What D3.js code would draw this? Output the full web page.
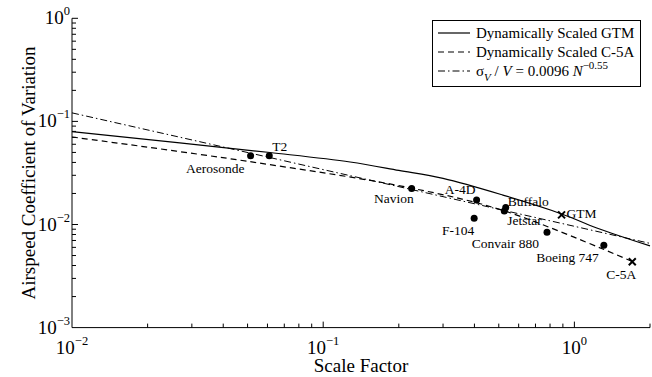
<!DOCTYPE html>
<html>
<head>
<meta charset="utf-8">
<script src="https://cdn.jsdelivr.net/npm/d3@7"></script>
<style>
  body { margin: 0; background: #fff; }
  svg { display: block; font-family: "Liberation Serif", "Times New Roman", serif; }
</style>
</head>
<body>
<svg id="chart"></svg>
<script>
const width = 652;
const height = 377;

// dynamically scaled GTM curve (scale factor, airspeed CoV)
const gtmScale = [0.01, 0.0614, 0.128, 0.2, 0.3, 0.519, 0.891, 1.228, 2];
const gtmCov = [0.0795, 0.0499, 0.0404, 0.0335, 0.0280, 0.0193, 0.01265, 0.00925, 0.0062];

// dynamically scaled C-5A curve
const c5aScale = [0.01, 0.0511, 0.2233, 0.529, 1.707];
const c5aCov = [0.0706, 0.0407, 0.0226, 0.0135, 0.00436];

// fit line end points: sigma_V / V = 0.0096 N^-0.55
const fitScale = [0.01, 2];
const fitCov = [0.121, 0.00656];

// aircraft
const aircraft = ['Aerosonde', 'T2', 'Navion', 'A-4D', 'Buffalo', 'Jetstar', 'F-104', 'GTM', 'Convair 880', 'Boeing 747', 'C-5A'];
const acScale = [0.0514, 0.061, 0.225, 0.408, 0.533, 0.526, 0.399, 0.889, 0.778, 1.31, 1.70];
const acCov = [0.0465, 0.0465, 0.0224, 0.0173, 0.0146, 0.0135, 0.0115, 0.0124, 0.0084, 0.0063, 0.00436];
const acMarker = ['dot', 'dot', 'dot', 'dot', 'dot', 'dot', 'dot', 'cross', 'dot', 'dot', 'cross'];

const legendLabels = ['Dynamically Scaled GTM', 'Dynamically Scaled C-5A'];

// where each label sits relative to its marker: dx, dy, anchor
const labelPos = {
  'Aerosonde': [-6, 17, 'end'],
  'T2': [3, -5, 'start'],
  'Navion': [2, 15, 'end'],
  'A-4D': [-1, -6, 'end'],
  'Buffalo': [2, -2, 'start'],
  'Jetstar': [3, 14, 'start'],
  'F-104': [0, 17, 'end'],
  'GTM': [5, 3, 'start'],
  'Convair 880': [-8, 16, 'end'],
  'Boeing 747': [-5, 17, 'end'],
  'C-5A': [4, 17, 'end']
};

const margin = { left: 72, right: 2, top: 18.3, bottom: 49.4 };

const svg = d3.select('#chart')
  .attr('width', width)
  .attr('height', height);

const x = d3.scaleLog()
  .domain([0.01, 2])
  .range([margin.left, width - margin.right]);

const y = d3.scaleLog()
  .domain([0.001, 1])
  .range([height - margin.bottom, margin.top]);

// tick values: every 1..9 of each decade
function logTicks(lo, hi) {
  const t = [];
  for (let e = Math.floor(Math.log10(lo)); e <= Math.ceil(Math.log10(hi)); e++) {
    for (let m = 1; m <= 9; m++) {
      const v = m * Math.pow(10, e);
      if (v >= lo * 0.9999 && v <= hi * 1.0001) t.push(v);
    }
  }
  return t;
}
const isMajor = v => Math.abs(Math.log10(v) - Math.round(Math.log10(v))) < 1e-6;

const xTicks = logTicks(0.01, 2);
const yTicks = logTicks(0.001, 1);

const axis_g = svg.append('g').attr('id', 'axes_g');

// axis lines
axis_g.append('line')
  .attr('x1', x(0.01)).attr('x2', x(2))
  .attr('y1', y(0.001)).attr('y2', y(0.001))
  .attr('stroke', '#000').attr('stroke-width', 1);
axis_g.append('line')
  .attr('x1', x(0.01)).attr('x2', x(0.01))
  .attr('y1', y(0.001)).attr('y2', y(1))
  .attr('stroke', '#000').attr('stroke-width', 1);

// inward ticks
axis_g.selectAll('.xtick')
  .data(xTicks.filter(v => v > 0.01))
  .enter().append('line')
  .attr('x1', d => x(d)).attr('x2', d => x(d))
  .attr('y1', y(0.001)).attr('y2', d => y(0.001) - (isMajor(d) ? 6 : 4))
  .attr('stroke', '#000');

axis_g.selectAll('.ytick')
  .data(yTicks.filter(v => v > 0.001))
  .enter().append('line')
  .attr('y1', d => y(d)).attr('y2', d => y(d))
  .attr('x1', x(0.01)).attr('x2', d => x(0.01) + (isMajor(d) ? 6 : 4))
  .attr('stroke', '#000');

// tick labels, 10^n
function powerLabel(sel, exp) {
  sel.append('tspan').text('10');
  sel.append('tspan')
    .attr('dy', -9)
    .attr('font-size', 12.5)
    .text(exp < 0 ? '\u2212' + (-exp) : String(exp));
}

[-2, -1, 0].forEach(e => {
  const t = axis_g.append('text')
    .attr('x', x(Math.pow(10, e)))
    .attr('y', height - margin.bottom + 26)
    .attr('text-anchor', 'middle')
    .attr('font-size', 19);
  powerLabel(t, e);
});

[-3, -2, -1, 0].forEach(e => {
  const t = axis_g.append('text')
    .attr('x', x(0.01) - 2)
    .attr('y', y(Math.pow(10, e)) + 6)
    .attr('text-anchor', 'end')
    .attr('font-size', 19);
  powerLabel(t, e);
});

// axis titles
svg.append('text')
  .attr('x', (x(0.01) + x(2)) / 2)
  .attr('y', 372)
  .attr('text-anchor', 'middle')
  .attr('font-size', 19)
  .text('Scale Factor');

svg.append('text')
  .attr('transform', `translate(35,${(y(1) + y(0.001)) / 2}) rotate(-90)`)
  .attr('text-anchor', 'middle')
  .attr('font-size', 19)
  .text('Airspeed Coefficient of Variation');

// curves
const smooth = d3.line()
  .x(d => x(d[0]))
  .y(d => y(d[1]))
  .curve(d3.curveCatmullRom.alpha(0.5));

const straight = d3.line()
  .x(d => x(d[0]))
  .y(d => y(d[1]));

const lines_g = svg.append('g').attr('id', 'lines_g');

lines_g.append('path')
  .datum(gtmScale.map((s, i) => [s, gtmCov[i]]))
  .attr('d', smooth)
  .attr('fill', 'none')
  .attr('stroke', '#000')
  .attr('stroke-width', 1.2);

lines_g.append('path')
  .datum(c5aScale.map((s, i) => [s, c5aCov[i]]))
  .attr('d', smooth)
  .attr('fill', 'none')
  .attr('stroke', '#000')
  .attr('stroke-width', 1.2)
  .attr('stroke-dasharray', '6,4');

lines_g.append('path')
  .datum(fitScale.map((s, i) => [s, fitCov[i]]))
  .attr('d', straight)
  .attr('fill', 'none')
  .attr('stroke', '#000')
  .attr('stroke-width', 1)
  .attr('stroke-dasharray', '7,3,1.5,3');

// aircraft markers
const pts = aircraft.map((name, i) => ({ name, s: acScale[i], v: acCov[i], m: acMarker[i] }));
const pts_g = svg.append('g').attr('id', 'points_g');

pts_g.selectAll('circle')
  .data(pts.filter(d => d.m === 'dot'))
  .enter().append('circle')
  .attr('cx', d => x(d.s))
  .attr('cy', d => y(d.v))
  .attr('r', 3.5)
  .attr('fill', '#000');

pts_g.selectAll('path')
  .data(pts.filter(d => d.m === 'cross'))
  .enter().append('path')
  .attr('transform', d => `translate(${x(d.s)},${y(d.v)})`)
  .attr('d', 'M-3.5,-3.5L3.5,3.5M-3.5,3.5L3.5,-3.5')
  .attr('stroke', '#000')
  .attr('stroke-width', 2);

pts_g.selectAll('text')
  .data(pts)
  .enter().append('text')
  .attr('x', d => x(d.s) + labelPos[d.name][0])
  .attr('y', d => y(d.v) + labelPos[d.name][1])
  .attr('text-anchor', d => labelPos[d.name][2])
  .attr('font-size', 13.5)
  .text(d => d.name);

// legend
const legend_g = svg.append('g').attr('id', 'legend_g');
legend_g.append('rect')
  .attr('x', 432.5).attr('y', 20.5)
  .attr('width', 208).attr('height', 66)
  .attr('fill', '#fff')
  .attr('stroke', '#000');

const rowsY = [33, 52, 71];
const dashes = [null, '6,4', '7,3,1.5,3'];
rowsY.forEach((ry, i) => {
  legend_g.append('line')
    .attr('x1', 438).attr('x2', 470)
    .attr('y1', ry).attr('y2', ry)
    .attr('stroke', '#000')
    .attr('stroke-width', 1.2)
    .attr('stroke-dasharray', dashes[i]);
});
legendLabels.forEach((lab, i) => {
  legend_g.append('text')
    .attr('x', 476).attr('y', rowsY[i] + 5)
    .attr('font-size', 15)
    .text(lab);
});
const fitText = legend_g.append('text')
  .attr('x', 476).attr('y', rowsY[2] + 5)
  .attr('font-size', 15);
fitText.append('tspan').text('\u03c3');
fitText.append('tspan').attr('dy', 5).attr('font-size', 11).attr('font-style', 'italic').text('V');
fitText.append('tspan').attr('dy', -5).text(' / ');
fitText.append('tspan').attr('font-style', 'italic').text('V');
fitText.append('tspan').text(' = 0.0096 ');
fitText.append('tspan').attr('font-style', 'italic').text('N');
fitText.append('tspan').attr('dy', -7).attr('font-size', 11).text('\u22120.55');
</script>
</body>
</html>
